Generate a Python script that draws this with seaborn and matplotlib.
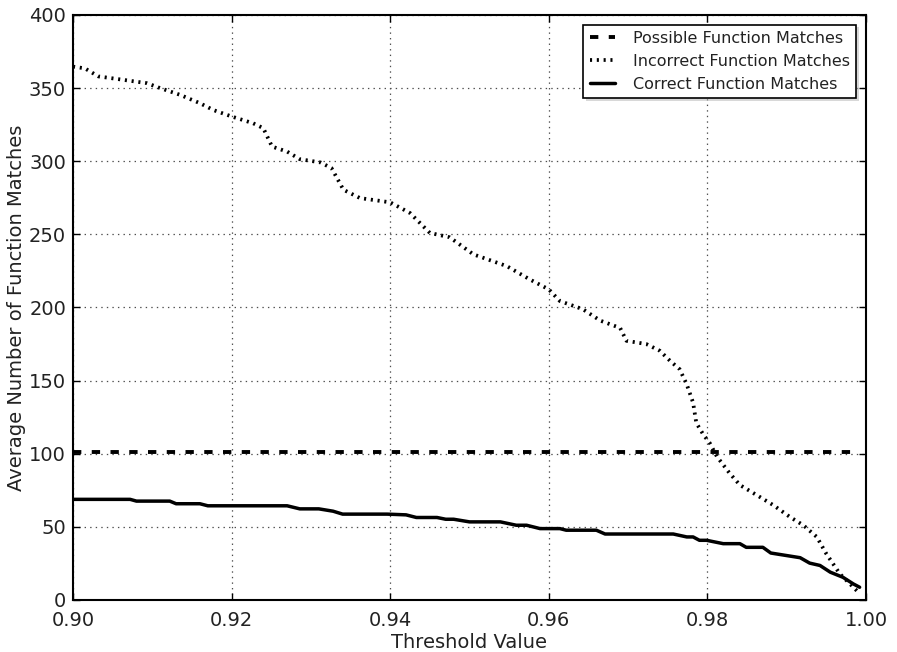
import numpy as np
import pandas as pd
import matplotlib
matplotlib.use('Agg')
import matplotlib.pyplot as plt
import seaborn as sns

# threshold values and matches
possible_t = [0.900, 0.999]
possible_y = [101.5, 101.5]

incorrect_t = [0.9000, 0.9015, 0.9032, 0.9055, 0.9093, 0.9110, 0.9135, 0.9160, 0.9177,
               0.9200, 0.9227, 0.9240, 0.9251, 0.9270, 0.9286, 0.9312, 0.9326, 0.9341,
               0.9362, 0.9400, 0.9425, 0.9450, 0.9475, 0.9505, 0.9547, 0.9576, 0.9600,
               0.9614, 0.9643, 0.9665, 0.9690, 0.9698, 0.9723, 0.9740, 0.9753, 0.9765,
               0.9774, 0.9782, 0.9786, 0.9795, 0.9803, 0.9812, 0.9828, 0.9841, 0.9862,
               0.9883, 0.9904, 0.9921, 0.9938, 0.9950, 0.9967, 0.9990]
incorrect_y = [364.7, 363.5, 358.0, 356.3, 353.4, 350.0, 345.4, 339.7, 335.0,
               330.6, 326.0, 322.6, 310.0, 306.6, 301.4, 299.2, 295.3, 280.5,
               274.8, 271.9, 264.6, 251.0, 248.0, 236.3, 228.3, 219.2, 212.4,
               204.4, 198.8, 191.0, 186.0, 177.2, 175.0, 170.4, 163.5, 157.8,
               147.4, 134.9, 121.1, 113.0, 107.3, 98.1, 86.7, 78.6, 71.8,
               64.9, 56.8, 51.1, 43.1, 31.6, 17.9, 5.5]

correct_t = [0.9000, 0.9072, 0.9080, 0.9122, 0.9130, 0.9160, 0.9170, 0.9270, 0.9286,
             0.9310, 0.9328, 0.9340, 0.9396, 0.9420, 0.9433, 0.9459, 0.9470, 0.9480,
             0.9500, 0.9539, 0.9559, 0.9572, 0.9589, 0.9614, 0.9622, 0.9660, 0.9671,
             0.9757, 0.9774, 0.9782, 0.9790, 0.9799, 0.9820, 0.9841, 0.9849, 0.9870,
             0.9880, 0.9917, 0.9929, 0.9942, 0.9955, 0.9971, 0.9984, 0.9992]
correct_y = [68.8, 68.8, 67.6, 67.6, 65.8, 65.8, 64.4, 64.4, 62.3,
             62.3, 60.7, 58.7, 58.7, 58.2, 56.4, 56.4, 55.2, 55.2,
             53.4, 53.4, 51.1, 51.1, 48.8, 48.8, 47.7, 47.7, 45.1,
             45.1, 43.1, 43.1, 40.8, 40.8, 38.5, 38.5, 36.0, 36.0,
             32.1, 28.9, 25.2, 23.6, 19.0, 15.5, 11.0, 8.7]

sns.set_style("white", {
    'axes.edgecolor': 'black',
    'xtick.direction': 'in',
    'ytick.direction': 'in',
    'xtick.top': True,
    'ytick.right': True,
    'xtick.bottom': True,
    'ytick.left': True,
})
plt.rcParams['font.family'] = ['DejaVu Sans']
plt.rcParams['lines.scale_dashes'] = False
txt = '#222222'

fig = plt.figure(figsize=(8.97, 6.52), dpi=100)
ax = fig.add_axes([0.0814, 0.0798, 0.884, 0.8972])

ax = sns.lineplot(x=possible_t, y=possible_y, ax=ax, color='black', lw=2.8,
                  linestyle=(0, (6, 7.5)), label='Possible Function Matches')
ax = sns.lineplot(x=incorrect_t, y=incorrect_y, ax=ax, color='black', lw=2.7,
                  linestyle=(0, (1.5, 3.4)), label='Incorrect Function Matches')
ax = sns.lineplot(x=correct_t, y=correct_y, ax=ax, color='black', lw=2.5,
                  linestyle='-', label='Correct Function Matches')

ax.set_xlim(0.90, 1.00)
ax.set_ylim(0, 400)
ax.set_xticks([0.90, 0.92, 0.94, 0.96, 0.98, 1.00])
ax.set_xticklabels(['0.90', '0.92', '0.94', '0.96', '0.98', '1.00'])
ax.set_yticks(range(0, 401, 50))
ax.grid(True, color='0.3', linestyle=(0, (1, 3)), linewidth=0.9)
ax.set_axisbelow(True)
for s in ax.spines.values():
    s.set_linewidth(1.5)
ax.tick_params(labelsize=14, length=5, width=1, colors='black', labelcolor=txt)
ax.tick_params(axis='x', pad=8)
ax.tick_params(axis='y', pad=5)
ax.set_xlabel('Threshold Value', fontsize=14, color=txt, labelpad=2)
ax.set_ylabel('Average Number of Function Matches', fontsize=14, color=txt, labelpad=2)

leg = ax.legend(loc='upper right', fontsize=11.5, frameon=True, fancybox=False,
                shadow={'facecolor': '0.7', 'edgecolor': 'none'}, framealpha=1,
                edgecolor='black', handlelength=1.6, handletextpad=1.1,
                borderaxespad=0.6)
leg.get_frame().set_linewidth(1.2)
for t in leg.get_texts():
    t.set_color(txt)

fig.savefig('out.png', dpi=100)
